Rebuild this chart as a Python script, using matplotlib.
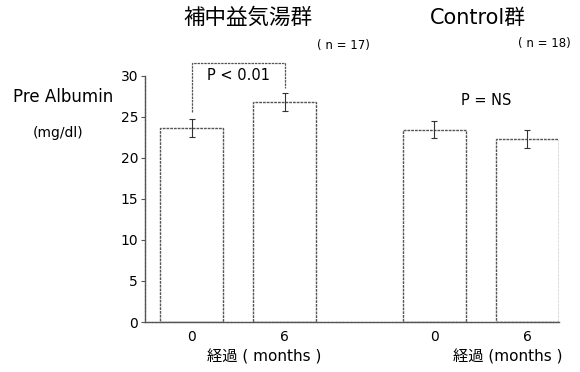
import matplotlib
matplotlib.use("Agg")
import matplotlib.pyplot as plt

plt.rcParams['font.family'] = ['DejaVu Sans', 'Noto Sans CJK JP']

# prealbumin before / after 6 months, per group
months = ["0", "6", "0", "6"]
positions = [0, 1, 2.61, 3.61]
means = [23.6, 26.8, 23.4, 22.3]
errors = [1.1, 1.1, 1.05, 1.1]
yticks = [0, 5, 10, 15, 20, 25, 30]

line_col = '#555555'

fig = plt.figure(figsize=(5.8, 3.72), dpi=100)
ax = fig.add_axes([145 / 580, 50 / 372, 414 / 580, 246.5 / 372])

ax.bar(positions, means, width=0.677, color='white', edgecolor=line_col,
       linewidth=1.0, linestyle=(0, (2, 0.7)), zorder=2)
ax.errorbar(positions, means, yerr=errors, fmt='none', ecolor='#333333',
            elinewidth=0.8, capsize=2, capthick=0.8, zorder=3)

ax.set_xlim(-0.5, positions[-1] + 0.339)
ax.set_ylim(0, 30)
ax.set_yticks(yticks)
ax.set_xticks(positions)
ax.set_xticklabels(months)
ax.tick_params(axis='y', direction='out', length=3, width=0.8, color=line_col,
               labelsize=10, pad=2)
ax.tick_params(axis='x', length=0, labelsize=10, pad=6)

for side in ['top', 'right']:
    ax.spines[side].set_visible(False)
for side in ['left', 'bottom']:
    ax.spines[side].set_color(line_col)
    ax.spines[side].set_linewidth(1.0)
    ax.spines[side].set_linestyle((0, (2, 0.7)))

# significance bracket for the treated group
bx0, bx1 = positions[0], positions[1]
ax.plot([bx0, bx0, bx1, bx1], [25.6, 31.5, 31.5, 28.5], color=line_col,
        linewidth=0.9, linestyle=(0, (2, 0.7)), clip_on=False)
ax.text((bx0 + bx1) / 2, 30.0, "P < 0.01", ha='center', va='center', fontsize=10.5)
ax.text((positions[2] + positions[3]) / 2 + 0.06, 27.0, "P = NS",
        ha='center', va='center', fontsize=10.5)

# group titles and labels
fig.text(248 / 580, 1 - 18 / 372, "補中益気湯群", ha='center', va='center',
         fontsize=15.5, family=['Noto Sans CJK JP'])
fig.text(478 / 580, 1 - 18 / 372, "Control群", ha='center', va='center', fontsize=15)
fig.text(343 / 580, 1 - 45 / 372, "( n = 17)", ha='center', va='center', fontsize=8.5)
fig.text(544 / 580, 1 - 43 / 372, "( n = 18)", ha='center', va='center', fontsize=8.5)

fig.text(13 / 580, 1 - 97 / 372, "Pre Albumin", ha='left', va='center', fontsize=12)
fig.text(33 / 580, 1 - 133 / 372, "(mg/dl)", ha='left', va='center', fontsize=10)

fig.text(264 / 580, 1 - 357 / 372, "経過 ( months )", ha='center', va='center', fontsize=11)
fig.text(508 / 580, 1 - 357 / 372, "経過 (months )", ha='center', va='center', fontsize=11)

fig.savefig("out.png", dpi=100)
